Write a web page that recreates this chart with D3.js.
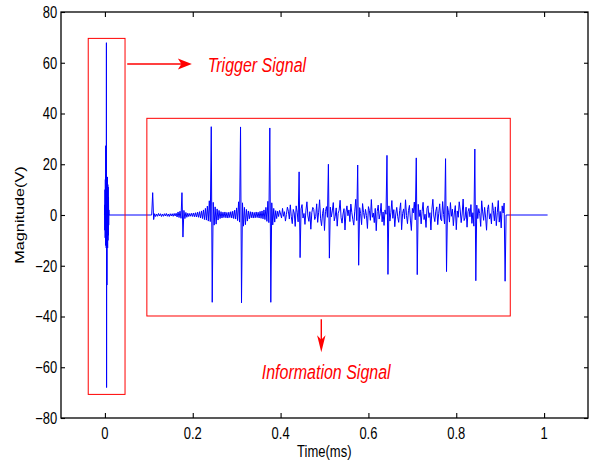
<!DOCTYPE html>
<html><head><meta charset="utf-8">
<script src="https://cdn.jsdelivr.net/npm/d3@7"></script>
<style>body{margin:0;background:#fff}svg text{font-family:"Liberation Sans",Arial,Helvetica,sans-serif}</style>
</head><body><svg id="c" width="591" height="465"></svg>
<script>
// ---- data ----
const xTicks = [0, 0.2, 0.4, 0.6, 0.8, 1];
const yTicks = [-80, -60, -40, -20, 0, 20, 40, 60, 80];
const xDomain = [-0.1, 1.1];
const yDomain = [-80, 80];
const xLabel = "Time(ms)";
const yLabel = "Magnitude(V)";

// trigger burst (ms start, ms step, volts)
const triggerStart = -0.001, triggerStep = 0.0004;
const triggerValues = [0, 4, -6, 10, -9, 14, -12, 27.3, -11, 16, -13, 67.9, -68, 15, -27.6, 14, -12, 15, -13, 12, -10, 11, -8, 7, -4, 2, 0];

// information signal samples (ms start, ms step, volts)
const infoStart = 0.1043, infoStep = 0.002223;
const infoValues = [
 0, 0,
 8.8, -1.8, 0.5, -0.6, 0.4, -0.5, 0.6, -0.4, 0.5, -0.6, 0.4, -0.5, 0.5, -0.4, 0.6, -0.5, 0.4, -0.6, 0.5, -0.4, 0.5, -0.5, 0.6, -0.4, 0.7, -0.8, 1.2, -1.0, 1.5, -1.3,
 8.8, -8.7, 1.8, -1.4, 1.0, -0.9, 0.7, -0.6, 0.6, -0.5, 0.7, -0.6, 0.8, -0.7, 0.9, -0.8, 1.1, -0.9, 1.3, -1.2, 1.6, -1.4, 2.0, -1.8, 2.6, -2.0, 3.5, -2.4, 5.6, -2.6,
 34.8, -34.4, 5.0, -4.0, 3.2, -3.6, 2.4, -2.0, 1.8, -1.4, 1.3, -1.2, 1.1, -1.0, 1.2, -1.1, 1.0, -1.2, 1.1, -1.0, 1.3, -1.2, 1.5, -1.4, 1.9, -1.6, 2.8, -2.2, 5.2, -2.8,
 34.7, -34.6, 4.8, -4.4, 3.0, -3.8, 2.2, -2.4, 1.6, -1.5, 1.3, -1.1, 1.2, -1.2, 1.0, -1.1, 1.2, -1.0, 1.1, -1.2, 1.4, -1.3, 1.6, -1.5, 2.0, -1.8, 3.0, -2.5, 5.4, -3.0,
 34.3, -34.4, 4.8, -3.9, 2.6, -2.8, 1.7, -1.4, 1.5, -0.6, 1.8, 0.4, -1.2, 2.6, -0.5, 1.3, -2.4, 0.2, 3.1, 1.5, -1.6, 4.0, -0.7, -3.4, 2.2, 0.8, -4.5, 3.6, 1.1, -2.7,
 17.0, -16.8, 2.4, 4.1, -1.2, 0.6, -3.7, 1.9, 5.2, -0.4, -2.5, 1.3, -5.6, 0.9, 3.0, 2.2, -1.8, -0.6, 4.4, -2.9, 1.1, 6.0, -1.5, -4.2, 0.5, 2.7, -6.1, 1.4, 3.3, -0.9,
 20.0, -17.0, 3.1, -0.8, 1.6, 4.9, -2.3, -0.5, 2.8, -4.4, 0.7, 1.9, 5.8, -1.1, -3.2, 0.4, 2.5, -5.9, 1.2, 3.6, -0.3, 2.0, -2.6, 4.3, 0.9, -1.7, -4.0, 1.5, 6.2, -2.2,
 19.7, -19.8, 2.9, 0.6, -3.8, 4.5, 1.0, -1.4, 2.2, -0.2, -5.3, 3.3, 1.7, -2.1, 6.1, -0.9, 0.8, -3.0, 2.6, -6.2, 1.4, 3.9, -1.6, 0.5, 4.6, -2.7, 1.2, -4.1, 2.0, 0.3,
 23.5, -23.4, 3.6, -2.4, 0.9, 5.7, -1.3, 2.1, -4.6, 0.4, 3.0, -0.7, -2.9, 1.8, 4.8, -5.8, 0.6, 2.4, -1.5, 6.0, -0.2, -3.4, 1.7, 3.8, -2.0, -6.1, 2.6, 0.8, 5.1, -1.9,
 22.5, -23.5, 4.2, -0.6, 2.0, -3.5, 1.4, 5.0, -1.8, 0.3, -4.9, 2.7, 3.6, -1.0, 0.9, -5.9, 2.2, 6.2, -0.4, -2.6, 1.5, 3.2, -3.8, 0.7, 4.4, -1.6, -2.3, 5.3, 0.2, -3.5,
 22.2, -22.3, 3.4, 1.1, -2.8, 4.9, -0.5, 2.3, -4.2, 0.8, 3.7, -5.8, 1.6, -0.9, 5.2, 2.0, -3.0, 0.4, 6.3, -2.2, -1.1, 3.1, -4.8, 1.3, 2.6, -0.7, 4.1, -3.3, 0.9, -4.4,
 26.0, -25.9, 3.9, -1.4, 2.5, 0.6, -4.5, 5.6, 1.2, -2.1, 3.0, -0.8, -6.0, 2.2, 4.0, -1.6, 0.5, -3.5, 4.8, 1.7, -2.3, 3.2, -4.2, 0.9, 5.7, -2.8, 1.4, -5.1, 3.6, 0.8,
 4.7, -26.1, 0
];
const signalEnd = 1.008;

// annotations (data coordinates)
const triggerBox = {x0: -0.038, x1: 0.0458, y0: -70.7, y1: 69.6};
const infoBox = {x0: 0.0955, x1: 0.923, y0: -39.8, y1: 38.1};
const triggerArrow = {x0: 0.0508, x1: 0.198, y: 59.5};
const infoArrow = {x: 0.4927, y0: -41.1, y1: -54.1};
const triggerText = {x: 0.234, y: 56.4, text: "Trigger Signal"};
const infoText = {x: 0.357, y: -64.7, text: "Information Signal"};

// ---- drawing ----
const svg = d3.select('#c');
const L = 61, R = 588, T = 12, B = 418;
const x = d3.scaleLinear().domain(xDomain).range([L, R]);
const y = d3.scaleLinear().domain(yDomain).range([B, T]);
const SY = 1.25; // vertical stretch of the original figure text

// signal
const pts = [];
triggerValues.forEach((v, i) => pts.push([triggerStart + i * triggerStep, v]));
infoValues.forEach((v, i) => pts.push([infoStart + i * infoStep, v]));
pts.push([signalEnd, 0]);
svg.append('path').datum(pts)
  .attr('d', d3.line().x(d => x(d[0])).y(d => y(d[1])))
  .attr('fill', 'none').attr('stroke', '#0000ff').attr('stroke-width', 1)
  .attr('stroke-linejoin', 'round');

// axes (inward ticks on all 4 sides)
const noLab = () => '';
const gB = svg.append('g').attr('transform', `translate(0,${B})`)
  .call(d3.axisBottom(x).tickValues(xTicks).tickSize(-5).tickSizeOuter(0).tickFormat(noLab));
const gT = svg.append('g').attr('transform', `translate(0,${T})`)
  .call(d3.axisTop(x).tickValues(xTicks).tickSize(-5).tickSizeOuter(0).tickFormat(noLab));
const gL = svg.append('g').attr('transform', `translate(${L},0)`)
  .call(d3.axisLeft(y).tickValues(yTicks).tickSize(-4).tickSizeOuter(0).tickFormat(noLab));
const gR = svg.append('g').attr('transform', `translate(${R},0)`)
  .call(d3.axisRight(y).tickValues(yTicks).tickSize(-4).tickSizeOuter(0).tickFormat(noLab));
[gB, gT, gL, gR].forEach(g => { g.select('.domain').remove(); g.selectAll('line').attr('stroke', '#000').attr('stroke-width', 1.1); });
svg.append('rect').attr('x', L).attr('y', T).attr('width', R - L).attr('height', B - T)
  .attr('fill', 'none').attr('stroke', '#000').attr('stroke-width', 1.3);

// tick labels
const fx = d3.format('~g'), fy = d3.format('d');
svg.selectAll('.xl').data(xTicks).join('text').attr('class', 'xl')
  .attr('transform', d => `translate(${x(d)},439.3) scale(1,${SY})`)
  .attr('text-anchor', 'middle').attr('font-size', 13).attr('fill', '#000').text(d => fx(d));
svg.selectAll('.yl').data(yTicks).join('text').attr('class', 'yl')
  .attr('transform', d => `translate(57.3,${y(d) + 5.8}) scale(1,${SY})`)
  .attr('text-anchor', 'end').attr('font-size', 13).attr('fill', '#000').text(d => fy(d));

// axis titles
svg.append('text').attr('transform', `translate(${(L + R) / 2 - 0.2},456.8) scale(1,${SY})`)
  .attr('text-anchor', 'middle').attr('font-size', 13).text(xLabel);
svg.append('text').attr('transform', `translate(24.3,${(T + B) / 2}) scale(1,${SY}) rotate(-90)`)
  .attr('text-anchor', 'middle').attr('font-size', 13).text(yLabel);

// annotation boxes
[triggerBox, infoBox].forEach(b => {
  svg.append('rect').attr('x', x(b.x0)).attr('y', y(b.y1))
    .attr('width', x(b.x1) - x(b.x0)).attr('height', y(b.y0) - y(b.y1))
    .attr('fill', 'none').attr('stroke', '#ff0000').attr('stroke-width', 1);
});

// arrows
const ta = {x0: x(triggerArrow.x0), x1: x(triggerArrow.x1), y: y(triggerArrow.y)};
svg.append('line').attr('x1', ta.x0).attr('x2', ta.x1 - 8).attr('y1', ta.y).attr('y2', ta.y)
  .attr('stroke', '#ff0000').attr('stroke-width', 1.4);
svg.append('path').attr('fill', '#ff0000')
  .attr('d', `M${ta.x1},${ta.y} L${ta.x1 - 14},${ta.y - 5.5} L${ta.x1 - 10.5},${ta.y} L${ta.x1 - 14},${ta.y + 5.5} Z`);
const ia = {x: x(infoArrow.x), y0: y(infoArrow.y0), y1: y(infoArrow.y1)};
svg.append('line').attr('x1', ia.x).attr('x2', ia.x).attr('y1', ia.y0).attr('y2', ia.y1 - 10)
  .attr('stroke', '#ff0000').attr('stroke-width', 1.4);
svg.append('path').attr('fill', '#ff0000')
  .attr('d', `M${ia.x},${ia.y1} L${ia.x - 4.2},${ia.y1 - 17} L${ia.x},${ia.y1 - 12.5} L${ia.x + 4.2},${ia.y1 - 17} Z`);

// annotation text
[triggerText, infoText].forEach(t => {
  svg.append('text').attr('transform', `translate(${x(t.x)},${y(t.y)}) scale(1,${SY})`)
    .attr('font-size', 16).attr('font-style', 'italic').attr('fill', '#ff0000').text(t.text);
});
</script>
</body></html>
